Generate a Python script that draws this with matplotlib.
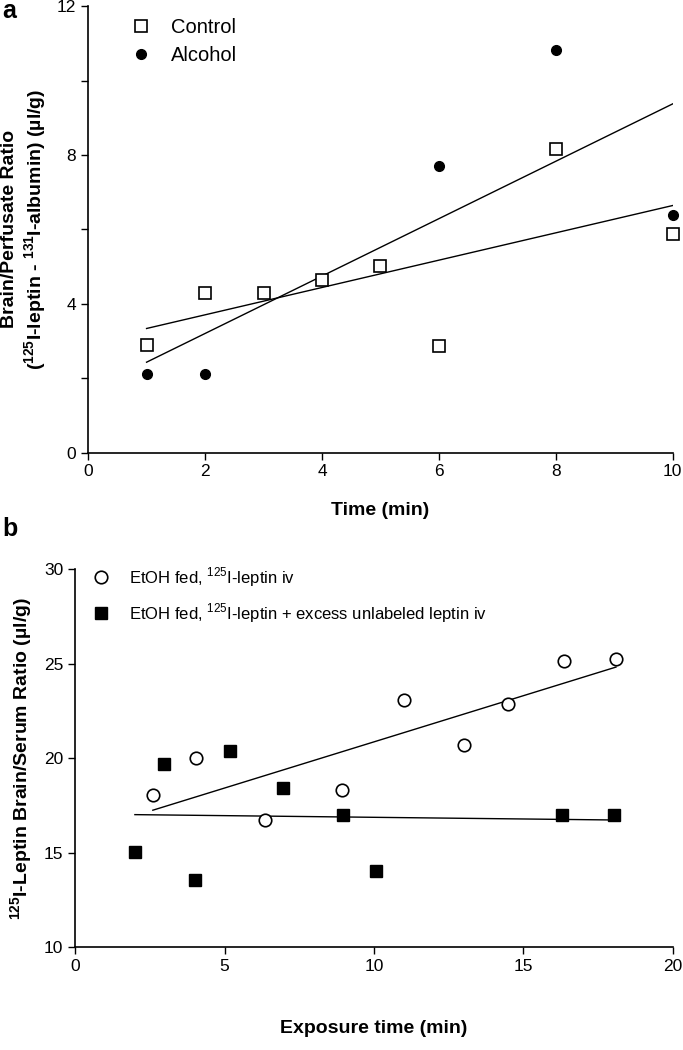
import numpy as np
import matplotlib.pyplot as plt

plt.rcParams['font.family'] = 'Liberation Sans'
plt.rcParams['mathtext.fontset'] = 'custom'
plt.rcParams['mathtext.rm'] = 'Liberation Sans'
plt.rcParams['mathtext.bf'] = 'Liberation Sans:bold'

# panel a data
ctrl_x = [1, 2, 3, 4, 5, 6, 8, 10]
ctrl_y = [2.90, 4.29, 4.30, 4.65, 5.02, 2.87, 8.16, 5.89]
alc_x = [1, 2, 6, 8, 10]
alc_y = [2.10, 2.12, 7.70, 10.82, 6.39]

# panel b data
iv_x = [2.6, 4.05, 6.36, 8.94, 11.0, 13.0, 14.5, 16.35, 18.1]
iv_y = [18.03, 20.0, 16.70, 18.32, 23.08, 20.70, 22.88, 25.15, 25.26]
xs_x = [2.0, 2.99, 4.0, 5.17, 6.97, 8.97, 10.07, 16.30, 18.03]
xs_y = [15.03, 19.68, 13.53, 20.38, 18.41, 17.0, 14.05, 17.0, 17.0]

def fitline(ax, x, y):
    # least squares line drawn over the data range
    p = np.polyfit(x, y, 1)
    xx = np.array([min(x), max(x)])
    ax.plot(xx, np.polyval(p, xx), color='black', lw=1.0, zorder=2)

fig = plt.figure(figsize=(6.83, 10.5), dpi=100)

# ---- a ----
ax1 = fig.add_axes([0.129, 0.569, 0.856, 0.425])
ax1.plot(ctrl_x, ctrl_y, 's', mfc='white', mec='black', ms=8, mew=1.2,
         label='Control', clip_on=False, zorder=3)
ax1.plot(alc_x, alc_y, 'o', color='black', ms=7,
         label='Alcohol', clip_on=False, zorder=3)
fitline(ax1, ctrl_x, ctrl_y)
fitline(ax1, alc_x, alc_y)
ax1.set_xlim(0, 10)
ax1.set_ylim(0, 12)
ax1.set_xticks(np.arange(0, 11, 2))
ax1.set_yticks([0, 4, 8, 12])
ax1.set_yticks([2, 6, 10], minor=True)
ax1.set_xlabel('Time (min)', fontsize=14, fontweight='bold', labelpad=16)
ax1.set_ylabel('Brain/Perfusate Ratio\n(' + r'$^{\mathbf{125}}$' + 'I-leptin - '
               + r'$^{\mathbf{131}}$' + 'I-albumin) (µl/g)',
               fontsize=14, fontweight='bold', labelpad=6)
ax1.legend(loc='upper left', bbox_to_anchor=(0.025, 1.015), frameon=False,
           fontsize=14.5, handletextpad=0.5, labelspacing=0.45)
fig.text(0.004, 0.983, 'a', fontsize=18, fontweight='bold')

# ---- b ----
ax2 = fig.add_axes([0.110, 0.098, 0.875, 0.360])
ax2.plot(iv_x, iv_y, 'o', mfc='white', mec='black', ms=9, mew=1.2,
         label='EtOH fed, ' + r'$^{125}$' + 'I-leptin iv', zorder=3)
ax2.plot(xs_x, xs_y, 's', color='black', ms=9,
         label='EtOH fed, ' + r'$^{125}$' + 'I-leptin + excess unlabeled leptin iv',
         zorder=3)
fitline(ax2, iv_x, iv_y)
fitline(ax2, xs_x, xs_y)
ax2.set_xlim(0, 20)
ax2.set_ylim(10, 30)
ax2.set_xticks(np.arange(0, 21, 5))
ax2.set_yticks(np.arange(10, 31, 5))
ax2.set_xlabel('Exposure time (min)', fontsize=14, fontweight='bold', labelpad=33)
ax2.set_ylabel(r'$^{\mathbf{125}}$' + 'I-Leptin Brain/Serum Ratio (µl/g)',
               fontsize=14, fontweight='bold', labelpad=6)
ax2.legend(loc='upper left', bbox_to_anchor=(-0.01, 1.05), frameon=False,
           fontsize=12, handletextpad=0.7, labelspacing=0.75)
fig.text(0.004, 0.49, 'b', fontsize=18, fontweight='bold')

for ax in (ax1, ax2):
    ax.spines['top'].set_visible(False)
    ax.spines['right'].set_visible(False)
    ax.spines['left'].set_linewidth(1.2)
    ax.spines['bottom'].set_linewidth(1.2)
    ax.tick_params(which='both', direction='out', length=5, width=1, labelsize=12.5)

fig.savefig('out.png', dpi=100)
